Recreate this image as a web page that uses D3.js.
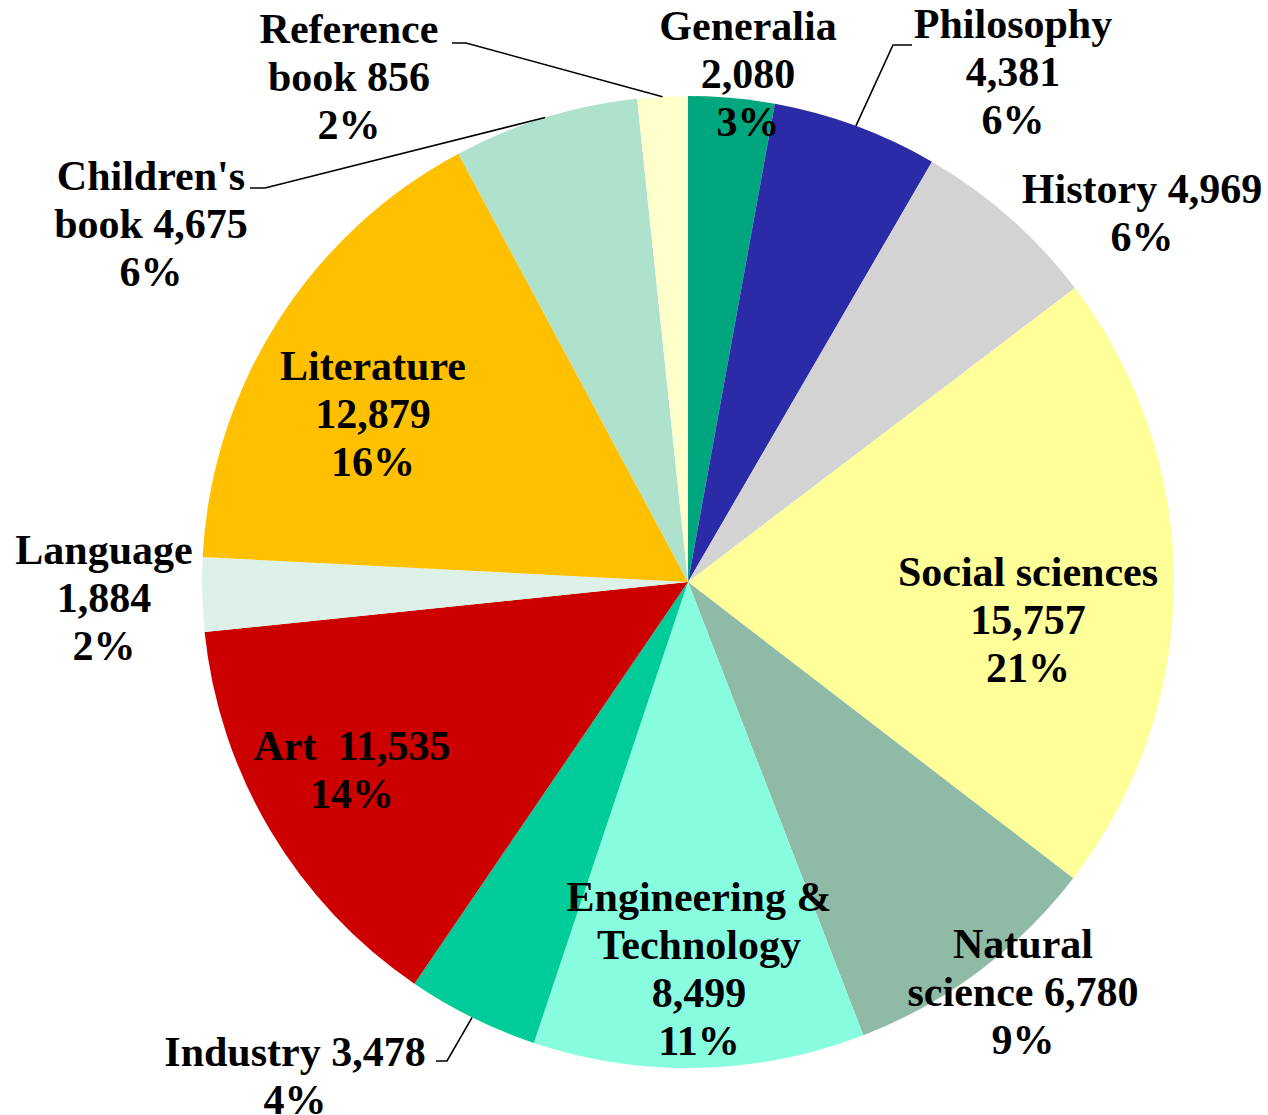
<!DOCTYPE html>
<html>
<head>
<meta charset="utf-8">
<script src="https://cdn.jsdelivr.net/npm/d3@7"></script>
<style>
  html, body { margin: 0; padding: 0; background: #fff; }
  svg { display: block; }
</style>
</head>
<body>
<div id="chart"></div>
<script>
// data, clockwise from 12 o'clock
const categories = ["Generalia", "Philosophy", "History", "Social sciences", "Natural science",
  "Engineering & Technology", "Industry", "Art", "Language", "Literature", "Children's book", "Reference book"];
// counts as printed in the labels
const values = [2080, 4381, 4969, 15757, 6780, 8499, 3478, 11535, 1884, 12879, 4675, 856];
// slice shares (%) as drawn in the picture
const shares = [2.86, 5.51, 6.29, 20.77, 8.69, 11.01, 4.38, 13.84, 2.46, 16.35, 6.16, 1.67];
const colors = ["#00A67E", "#2B2BA8", "#D3D3D3", "#FFFF99", "#8FBAA6", "#88FCDF",
  "#00CC99", "#CC0000", "#DDF1E8", "#FFC000", "#AEE2CC", "#FFFFCC"];

// label text lines (value and percent are filled in from the data)
const labelLines = [
  ["Generalia", "{v}", "{p}"],
  ["Philosophy", "{v}", "{p}"],
  ["History {v}", "{p}"],
  ["Social sciences", "{v}", "{p}"],
  ["Natural", "science {v}", "{p}"],
  ["Engineering &", "Technology", "{v}", "{p}"],
  ["Industry {v}", "{p}"],
  ["Art  {v}", "{p}"],
  ["Language", "{v}", "{p}"],
  ["Literature", "{v}", "{p}"],
  ["Children's", "book {v}", "{p}"],
  ["Reference", "book {v}", "{p}"]
];

// label layout: centre x, first baseline y; optional leader elbow
const labelLayout = [
  { x: 748, y: 40 },
  { x: 1013, y: 38, leader: [[893, 45], [912, 45]] },
  { x: 1142, y: 203 },
  { x: 1028, y: 586 },
  { x: 1023, y: 958 },
  { x: 699, y: 911 },
  { x: 295, y: 1066, leader: [[447, 1061], [436, 1061]] },
  { x: 352, y: 760 },
  { x: 104, y: 564 },
  { x: 373, y: 380 },
  { x: 151, y: 190, leader: [[265, 188], [250, 188]] },
  { x: 349, y: 43, leader: [[466, 43], [452, 43]] }
];

const W = 1268, H = 1115;
const cx = 688, cy = 582, radius = 486;
const lineH = 48;

const fmt = d3.format(",");

const svg = d3.select("#chart").append("svg")
  .attr("width", W).attr("height", H);

const g = svg.append("g").attr("transform", `translate(${cx},${cy})`);

const pie = d3.pie().sort(null).value(d => d.share);
const arc = d3.arc().innerRadius(0).outerRadius(radius);

const data = categories.map((c, i) => ({ name: c, value: values[i], share: shares[i], color: colors[i], i }));
const arcs = pie(data);

g.selectAll("path.slice").data(arcs).join("path")
  .attr("class", "slice")
  .attr("d", arc)
  .attr("fill", d => d.data.color);

// leader lines, from the slice's outer mid point
arcs.forEach((a, i) => {
  const L = labelLayout[i];
  if (!L.leader) return;
  const p0 = d3.arc().innerRadius(radius).outerRadius(radius).centroid(a);
  svg.append("path")
    .attr("d", d3.line()([[cx + p0[0], cy + p0[1]], ...L.leader]))
    .attr("fill", "none")
    .attr("stroke", "#000")
    .attr("stroke-width", 1.6);
});

// labels
arcs.forEach((a, i) => {
  const L = labelLayout[i];
  const pct = Math.round(a.data.share) + "%";
  const t = svg.append("text")
    .attr("x", L.x).attr("y", L.y)
    .attr("text-anchor", "middle")
    .style("font-family", "'Liberation Serif', 'Times New Roman', serif")
    .style("font-weight", "bold")
    .style("font-size", "42px")
    .style("white-space", "pre")
    .attr("fill", "#000");
  labelLines[i].forEach((ln, k) => {
    t.append("tspan")
      .attr("x", L.x)
      .attr("y", L.y + k * lineH)
      .text(ln.replace("{v}", fmt(a.data.value)).replace("{p}", pct));
  });
});
</script>
</body>
</html>
